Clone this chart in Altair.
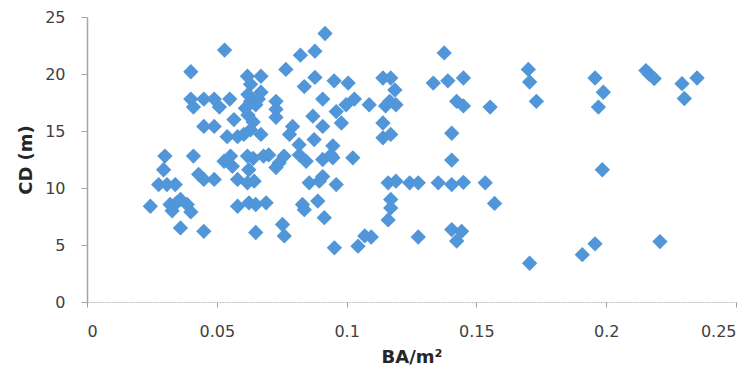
import altair as alt
import pandas as pd

ba = [0.0244, 0.0276, 0.0300, 0.0295, 0.0308, 0.0340, 0.0320, 0.0328, 0.0360, 0.0386,
      0.0400, 0.0345, 0.0360, 0.0400, 0.0400, 0.0410, 0.0450, 0.0450, 0.0490, 0.0410,
      0.0430, 0.0450, 0.0490, 0.0450, 0.0530, 0.0490, 0.0510, 0.0550, 0.0528, 0.0553,
      0.0560, 0.0540, 0.0580, 0.0566, 0.0580, 0.0580,
      0.0618, 0.0630, 0.0620, 0.0630, 0.0650, 0.0610, 0.0620, 0.0640, 0.0660, 0.0670,
      0.0670, 0.0630, 0.0604, 0.0670, 0.0618, 0.0640, 0.0680, 0.0623, 0.0618, 0.0644,
      0.0624, 0.0650, 0.0650, 0.0690, 0.0700,
      0.0728, 0.0728, 0.0728, 0.0740, 0.0728, 0.0759, 0.0753, 0.0760, 0.0766, 0.0780,
      0.0792, 0.0822, 0.0878, 0.0917, 0.0837, 0.0878, 0.0908, 0.0870, 0.0908, 0.0875,
      0.0817, 0.0818, 0.0844, 0.0908, 0.0947, 0.0947, 0.0940, 0.0908, 0.0856, 0.0895,
      0.0960, 0.0830, 0.0837, 0.0889, 0.0914, 0.0953, 0.0952, 0.1006, 0.0960, 0.0980,
      0.0998, 0.1030, 0.1024, 0.1044, 0.1070, 0.1087,
      0.1140, 0.1170, 0.1186, 0.1166, 0.1150, 0.1190, 0.1140, 0.1140, 0.1170, 0.1160,
      0.1190, 0.1170, 0.1170, 0.1160, 0.1095,
      0.1243, 0.1276, 0.1276, 0.1334, 0.1390, 0.1450, 0.1376, 0.1424, 0.1450, 0.1553,
      0.1405, 0.1405, 0.1353, 0.1405, 0.1450, 0.1534, 0.1570, 0.1405, 0.1443, 0.1424,
      0.1700, 0.1705, 0.1731, 0.1705, 0.1908, 0.1957, 0.1957, 0.1989, 0.1970, 0.1985,
      0.2153, 0.2165, 0.2185, 0.2207, 0.2292, 0.2301, 0.2350]

cd = [8.4, 10.3, 12.8, 11.6, 10.3, 10.3, 8.55, 8.0, 9.0, 8.55,
      7.9, 8.7, 6.5, 20.2, 17.8, 17.1, 17.8, 15.4, 15.4, 12.8,
      11.2, 10.75, 10.75, 6.2, 22.1, 17.8, 17.1, 17.8, 12.35, 12.8,
      11.9, 14.5, 14.5, 16.0, 10.75, 8.4,
      19.8, 19.1, 18.2, 17.6, 17.3, 17.0, 16.4, 15.8, 17.8, 18.4,
      19.8, 15.1, 14.7, 14.7, 12.8, 12.6, 12.8, 11.6, 10.45, 10.6,
      8.7, 8.55, 6.1, 8.7, 12.9,
      17.6, 16.9, 16.2, 12.2, 11.8, 12.8, 6.8, 5.8, 20.4, 14.7,
      15.4, 21.65, 22.0, 23.55, 18.9, 19.7, 17.8, 16.3, 15.4, 14.25,
      13.8, 12.9, 12.35, 12.5, 12.65, 13.7, 12.9, 11.0, 10.45, 10.6,
      10.3, 8.55, 8.1, 8.85, 7.4, 4.75, 19.4, 19.2, 16.7, 15.7,
      17.3, 17.8, 12.65, 4.9, 5.8, 17.3,
      19.65, 19.65, 18.6, 17.6, 17.2, 17.3, 15.7, 14.4, 14.7, 10.45,
      10.6, 9.0, 8.25, 7.2, 5.7,
      10.45, 10.45, 5.7, 19.2, 19.4, 19.65, 21.85, 17.6, 17.2, 17.1,
      14.8, 12.45, 10.45, 10.3, 10.5, 10.45, 8.65, 6.35, 6.2, 5.35,
      20.4, 19.3, 17.6, 3.4, 4.15, 5.1, 19.65, 18.4, 17.1, 11.6,
      20.3, 20.0, 19.6, 5.3, 19.15, 17.85, 19.65]

x_ticks = [0, 0.05, 0.1, 0.15, 0.2, 0.25]
y_ticks = [0, 5, 10, 15, 20, 25]

df = pd.DataFrame({"BA": ba, "CD": cd})

FONT = "DejaVu Sans"

chart = alt.Chart(df).mark_point(
    shape="diamond", filled=True, size=235, color="#5096D8", opacity=1
).encode(
    x=alt.X("BA:Q", scale=alt.Scale(domain=[0, 0.25], nice=False),
            axis=alt.Axis(title="BA/m²", values=x_ticks, format=".2~f",
                          grid=False, domainColor="#BBBBBB", domainDash=[2, 1],
                          domainWidth=1, tickColor="#999999", tickSize=5,
                          labelPadding=16, titlePadding=9,
                          labelFont=FONT, labelFontSize=16, labelColor="#404040",
                          titleFont=FONT, titleFontSize=18, titleFontWeight="bold",
                          titleColor="#262626")),
    y=alt.Y("CD:Q", scale=alt.Scale(domain=[0, 25], nice=False),
            axis=alt.Axis(title="CD (m)", values=y_ticks, grid=False,
                          domainColor="#A6A6A6", domainWidth=1.5,
                          tickColor="#A6A6A6", tickSize=6, labelPadding=16,
                          titlePadding=9,
                          labelFont=FONT, labelFontSize=16, labelColor="#404040",
                          titleFont=FONT, titleFontSize=18, titleFontWeight="bold",
                          titleColor="#262626")),
).properties(
    width=649, height=285,
    padding={"left": 87, "top": 17, "right": 19, "bottom": 71},
    autosize=alt.AutoSizeParams(type="none"),
    background="white",
).configure_view(
    stroke=None
)

chart.save("out.html", embed_options={"renderer": "svg", "actions": False})
